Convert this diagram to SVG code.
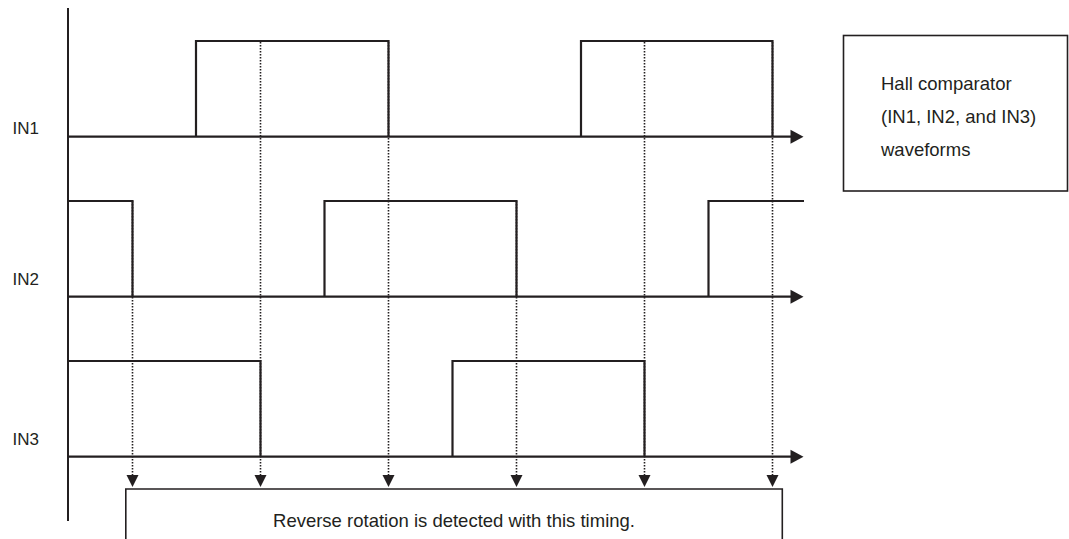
<svg xmlns="http://www.w3.org/2000/svg" width="1069" height="539" viewBox="0 0 1069 539">
<style>
.sig{fill:none;stroke:#231f20;stroke-width:2.2;stroke-linejoin:miter}
.axis{fill:none;stroke:#231f20;stroke-width:2}
.dot{fill:none;stroke:#231f20;stroke-width:1.6;stroke-dasharray:1.6 1.4}
.box{fill:none;stroke:#231f20;stroke-width:1.6}
.head{fill:#231f20}
text{font-family:"Liberation Sans",Arial,sans-serif;fill:#231f20}
.lbl{font-size:17px}
.txt{font-size:18.5px}
</style>
<rect width="1069" height="539" fill="#ffffff"/>
<g id="axis">
<line class="axis" x1="68" y1="8" x2="68" y2="521"/>
</g>
<g id="connectors">
<line class="dot" x1="132.5" y1="201" x2="132.5" y2="476"/>
<line class="dot" x1="260.5" y1="42" x2="260.5" y2="476"/>
<line class="dot" x1="388.5" y1="42" x2="388.5" y2="476"/>
<line class="dot" x1="516.5" y1="201" x2="516.5" y2="476"/>
<line class="dot" x1="644.5" y1="42" x2="644.5" y2="476"/>
<line class="dot" x1="772.5" y1="42" x2="772.5" y2="476"/>
<path class="head" d="M126.5,475 L138.5,475 L132.5,487 Z"/>
<path class="head" d="M254.5,475 L266.5,475 L260.5,487 Z"/>
<path class="head" d="M382.5,475 L394.5,475 L388.5,487 Z"/>
<path class="head" d="M510.5,475 L522.5,475 L516.5,487 Z"/>
<path class="head" d="M638.5,475 L650.5,475 L644.5,487 Z"/>
<path class="head" d="M766.5,475 L778.5,475 L772.5,487 Z"/>
</g>
<g id="in1">
<text class="lbl" x="12.5" y="134">IN1</text>
<line class="sig" x1="68" y1="136.7" x2="792" y2="136.7"/>
<path class="head" d="M790.5,129.7 L803.5,136.7 L790.5,143.7 Z"/>
<path class="sig" d="M196,136.7 V41 H388.5 V136.7"/>
<path class="sig" d="M581,136.7 V41 H772.5 V136.7"/>
</g>
<g id="in2">
<text class="lbl" x="12.5" y="284.5">IN2</text>
<line class="sig" x1="68" y1="296.7" x2="792" y2="296.7"/>
<path class="head" d="M790.5,289.7 L803.5,296.7 L790.5,303.7 Z"/>
<path class="sig" d="M68,201 H132.5 V296.7"/>
<path class="sig" d="M324.5,296.7 V201 H516.5 V296.7"/>
<path class="sig" d="M708.5,296.7 V201 H804"/>
</g>
<g id="in3">
<text class="lbl" x="12.5" y="444.5">IN3</text>
<line class="sig" x1="68" y1="456.7" x2="792" y2="456.7"/>
<path class="head" d="M790.5,449.7 L803.5,456.7 L790.5,463.7 Z"/>
<path class="sig" d="M68,361 H260.5 V456.7"/>
<path class="sig" d="M452.5,456.7 V361 H644.5 V456.7"/>
</g>
<g id="legend">
<rect class="box" x="843.5" y="35.5" width="224" height="155.5"/>
<text class="txt" x="881" y="90">Hall comparator</text>
<text class="txt" x="881" y="123">(IN1, IN2, and IN3)</text>
<text class="txt" x="881" y="156">waveforms</text>
</g>
<g id="timing-box">
<path class="box" d="M125.8,539 V489 H782.3 V539"/>
<text class="txt" x="454" y="526.5" text-anchor="middle">Reverse rotation is detected with this timing.</text>
</g>
</svg>
